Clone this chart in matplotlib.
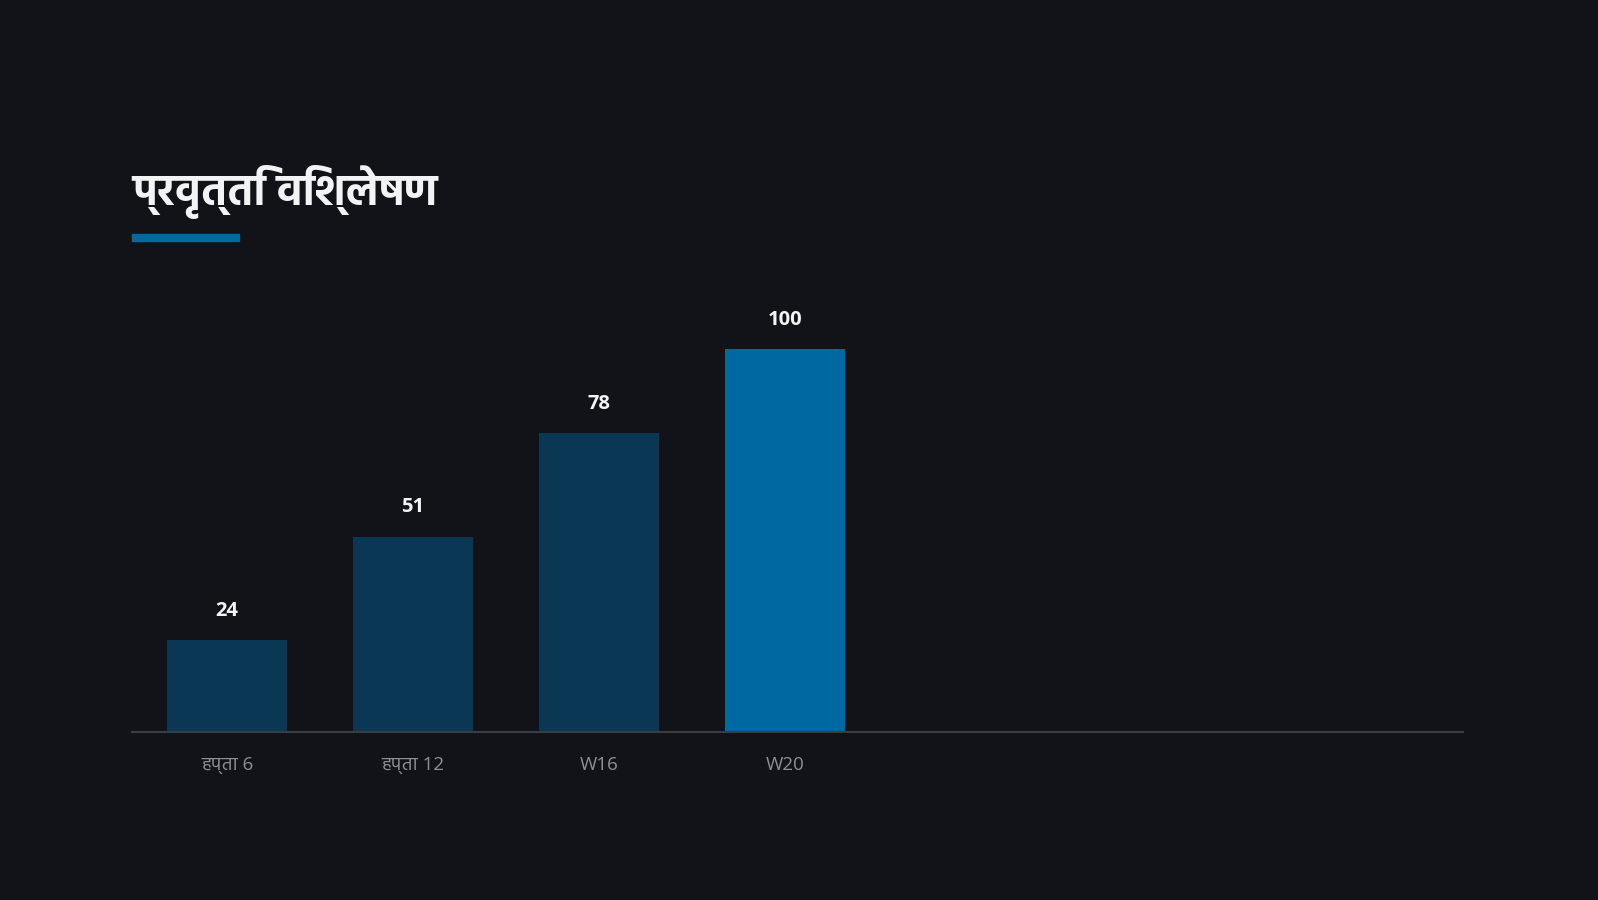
import matplotlib
matplotlib.use('Agg')
import matplotlib.pyplot as plt
from matplotlib.patches import Rectangle

# datos
categorias = ['हप्ता 6', 'हप्ता 12', 'W16', 'W20']
valores = [24, 51, 78, 100]
destacado = 3

fondo = '#111318'
color_barra = '#0a3753'
color_destacado = '#0068a0'
color_texto = '#f2f3f5'
color_eje = '#8b9099'

# Open Sans para latín, Hind / Noto para devanagari
fuentes = ['Open Sans', 'Hind', 'Yantramanav', 'Noto Sans Devanagari', 'DejaVu Sans']
plt.rcParams['font.family'] = fuentes

fig = plt.figure(figsize=(15.98, 9), dpi=100, facecolor=fondo)
ax = fig.add_axes([132 / 1598, 168 / 900, 1330.5 / 1598, 421 / 900])
ax.set_facecolor(fondo)

colores = [color_destacado if i == destacado else color_barra for i in range(len(valores))]
barras = ax.bar(range(len(valores)), valores, width=0.645, color=colores)

for barra, v in zip(barras, valores):
    ax.annotate(f'{v}', xy=(barra.get_x() + barra.get_width() / 2, v),
                xytext=(0, 14), textcoords='offset points',
                ha='center', va='bottom', fontsize=14.5, fontweight='bold',
                color=color_texto)

ax.set_xlim(-0.511, 6.642)
ax.set_ylim(0, 110)
ax.set_xticks(range(len(categorias)))
ax.set_xticklabels(categorias, fontsize=13.5, color=color_eje)
ax.tick_params(axis='x', length=0, pad=17)
ax.set_yticks([])

for s in ['top', 'right', 'left']:
    ax.spines[s].set_visible(False)
ax.spines['bottom'].set_color('#3a3d44')
ax.spines['bottom'].set_linewidth(1.5)

# título y subrayado
fig.text(132 / 1598, 1 - 192 / 900, 'प्रवृत्ति विश्लेषण', fontsize=31, fontweight='bold',
         color=color_texto, ha='left', va='center')
fig.patches.append(Rectangle((132 / 1598, 1 - 241 / 900), 107 / 1598, 7 / 900,
                             transform=fig.transFigure, color=color_destacado))

fig.savefig('out.png', dpi=100, facecolor=fondo)
